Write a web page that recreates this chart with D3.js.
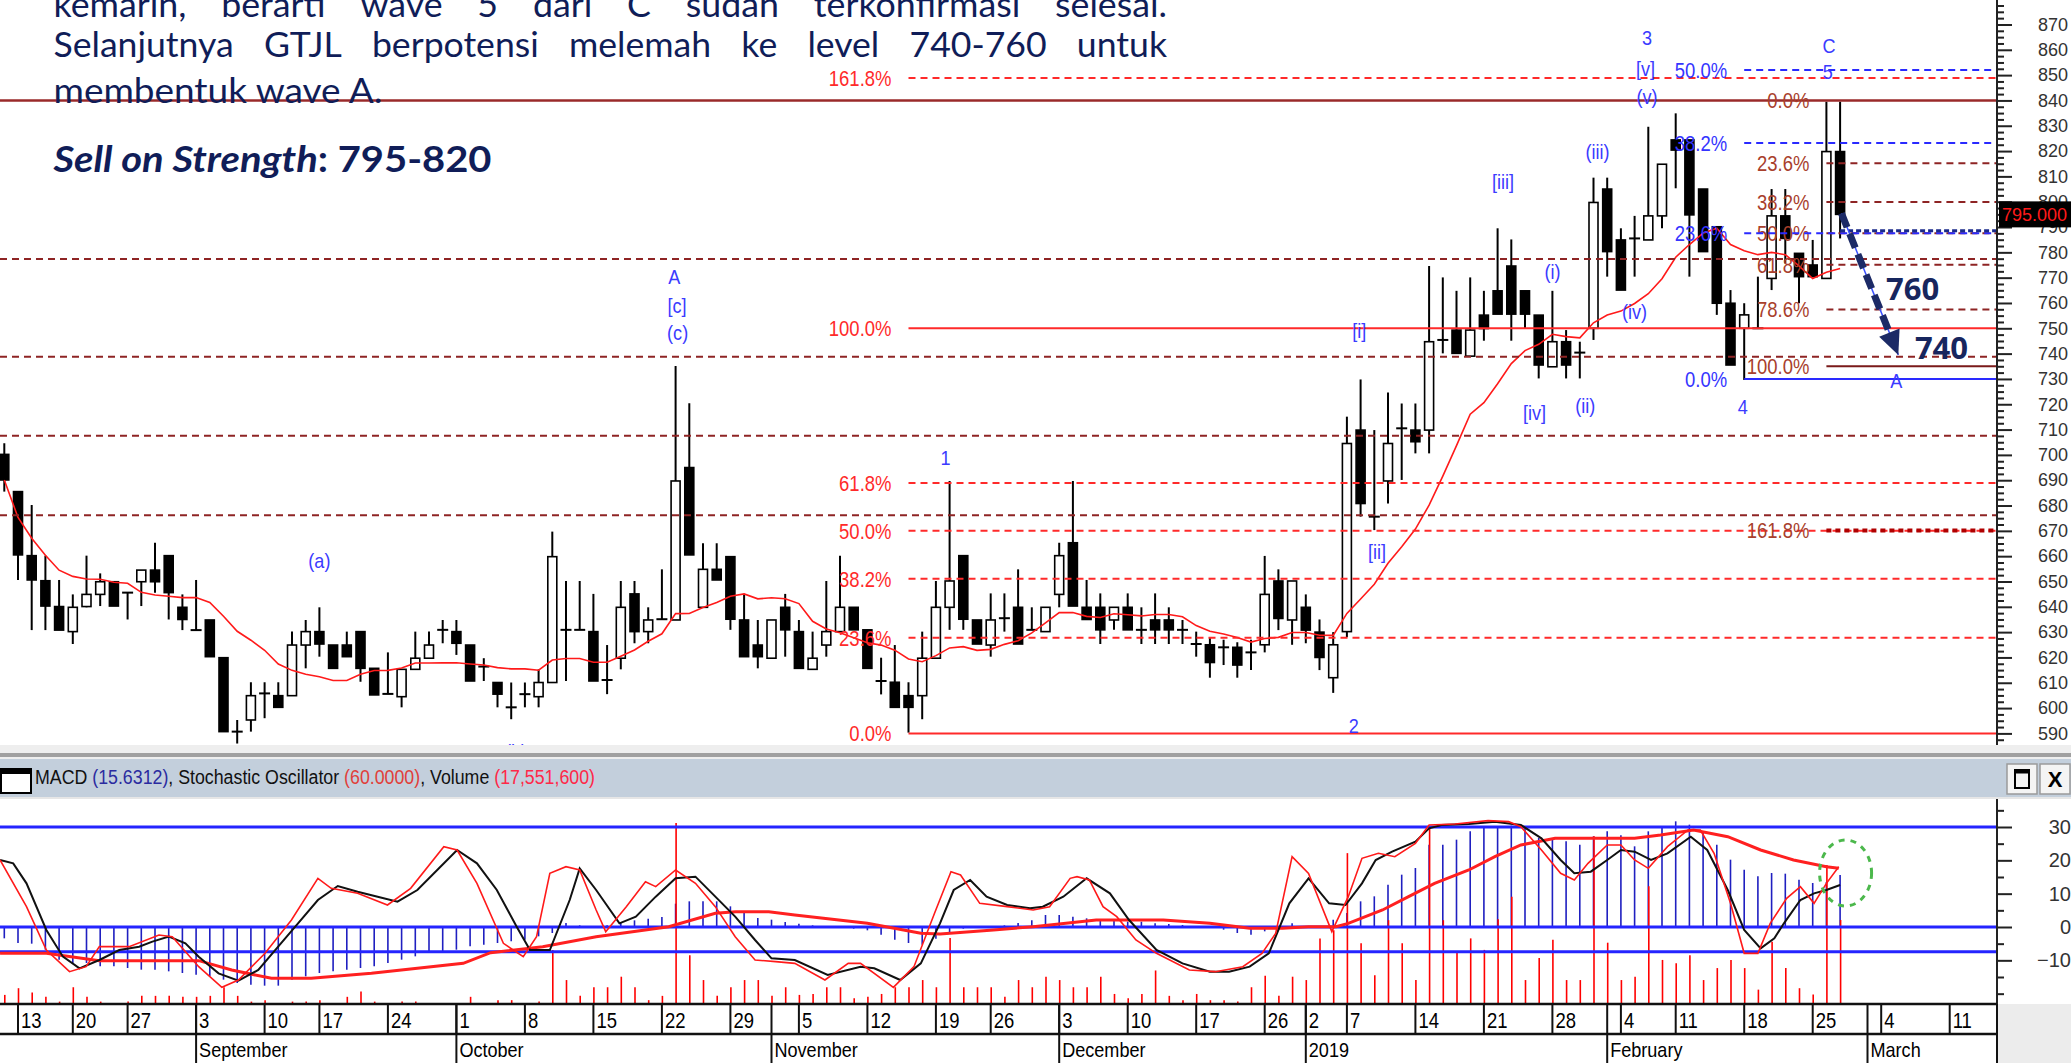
<!DOCTYPE html>
<html><head><meta charset="utf-8">
<script src="https://cdn.jsdelivr.net/npm/d3@7/dist/d3.min.js"></script>
<style>html,body{margin:0;padding:0;background:#fff;overflow:hidden}svg{display:block}</style>
</head><body>
<svg id="chart" width="2071" height="1063"></svg>
<script>
// ===================== DATA =====================
// trading-day index of first candle (0 = 13 Aug 2018)
const firstIndex = -1;
const open = [
700.2,685.5,660.2,650.3,640.1,630.2,640.1,644.9,649.9,645.6,
649.9,654.5,660.2,639.8,631.2,634.8,619.9,590.7,595.3,605.8,
604.9,604.9,624.9,630.2,624.9,624.9,630.2,615.7,605.6,604.5,
615.3,619.7,630.9,630.2,624.9,616.4,610.1,600.3,605.5,604.5,
610.1,630.9,630.9,630.2,611.1,619.7,645.1,630.2,635.1,634.8,
695.0,639.8,654.8,659.8,634.8,624.9,619.7,639.8,630.2,615.3,
624.9,630.2,639.8,630.9,610.7,610.2,604.9,604.9,619.7,639.8,
660.2,634.8,624.9,635.5,639.8,630.9,630.2,644.9,665.3,639.8,
639.8,634.8,639.8,630.9,634.8,634.8,630.9,625.3,625,624,
624,622,625,650.2,634.8,639.8,630,612,630.2,709.8,
675.6,689.7,710.5,709.8,709.8,745.4,749.3,739.0,755.2,764.8,
774.6,764.8,755.2,734.8,744.7,740.4,750,805.0,784.9,785.5,
784.9,794.4,824.4,824.4,805.0,790.1,759.9,750.0,750,769.7,
794.4,779.6,775,769.7,819.8];
const high = [
704.6,685.5,680.2,660.2,650.6,644.9,660.2,653.2,649.9,645.6,
654.5,665.3,660.2,644.9,650.6,634.8,620.0,595.3,610.2,610.2,
610.2,630.2,634.8,639.8,624.9,630.2,630.2,615.7,622.0,615.3,
630.2,630.2,634.8,634.8,624.9,619.7,610.1,610.1,610.1,615.3,
669.7,650.2,650.2,645.1,624.9,650.2,650.2,639.8,654.8,735.1,
720.4,665.1,665.1,659.8,645.1,634.8,634.8,645.1,634.8,630.2,
650.2,660.2,639.8,630.9,619.9,624.9,610.2,630.2,650.2,689.7,
660.2,634.8,645.3,645.3,654.8,639.8,639.8,665.3,689.7,650.6,
645.3,639.8,645.3,639.8,645.3,639.8,634.8,630.2,628,627,
626,627,660.1,654.8,650.2,644.9,635,630,715.1,729.8,
709.8,724.6,720.3,720.3,774.6,770.1,764.8,770.1,764.8,789.5,
785.1,764.8,755.2,764.8,749.3,744.7,809.5,809.5,789.5,794.4,
829.6,814.8,834.9,824.4,805.0,790.1,765.1,759.9,770.4,805,
805,779.6,784.9,839.5,839.5];
const low = [
685.5,650.6,630.8,630.8,630.8,625.3,639.8,640.3,640.3,635.0,
640.3,645.6,635.0,630.8,630.8,620.3,590.7,586.0,590.7,596.0,
600.3,604.9,615.7,620.3,615.7,620.3,610.4,605.2,605.6,600.3,
615.3,619.7,625.6,621.0,610.7,610.7,600.3,595.6,600.3,600.3,
610.1,610.7,630.9,610.7,605.5,615.3,625.6,625.6,635.1,634.8,
660.5,639.8,650.6,630.9,620.3,615.7,619.7,620.3,615.7,615.3,
620.3,630.2,630.9,615.7,605.4,600.3,590.3,595.6,619.7,630.9,
630.9,625.3,620.3,630.2,625.3,630.9,630.2,639.8,640.3,635.0,
625.3,630.9,630.9,625.3,625.3,625.3,625.3,620.3,612,617,
612,615,622,630.8,625,625.6,615,606,628,675.6,
670.3,680.8,690.1,700.6,700.6,740.1,740.1,739.0,745.1,755.6,
745.1,750,730.2,734.8,730.2,730.2,745.4,770.4,765.1,770.4,
784.9,789.5,805.3,770.4,780.3,755.3,735.5,729.6,750,765.1,
775.7,759.9,770.4,769.7,785.5];
const close = [
690.1,660.5,650.6,640.3,630.8,639.8,644.9,649.9,640.3,645.6,
654.5,649.9,645.6,635.0,630.8,620.3,590.7,590.7,604.9,605.8,
600.3,624.9,630.2,625.3,615.7,620.3,615.7,605.2,605.6,615.3,
619.7,624.9,630.9,625.6,610.7,616.4,605.5,600.3,605.5,610.1,
659.8,630.9,630.9,610.7,611.1,639.8,630.2,634.8,635.1,689.7,
660.5,654.8,650.6,635.1,620.3,620.3,634.8,630.9,615.7,619.7,
630.2,639.8,630.9,615.7,610.7,600.3,600.3,619.7,639.8,650.2,
635.1,625.3,634.8,635.5,625.3,630.9,639.8,660.2,640.3,635.0,
630.9,639.8,630.9,630.9,630.9,630.9,630.9,625.3,618,624,
617,622,644.9,635.4,650.2,630.8,620,625,704.5,680.8,
675.6,704.5,710.5,705.2,744.7,745.4,740.1,749.3,749.9,755.6,
755.6,755.6,735.5,744.7,735.5,740.4,799.7,780.3,765.1,785.5,
794.4,814.8,820.4,794.8,780.3,759.9,735.5,755.3,750,794.4,
785.5,770.4,770.4,819.8,795.0];
// volume, millions of shares
const volume = [
1.9,3.3,2.4,1.5,0.5,3.5,1.5,0.5,0,0.5,
1.7,1.7,1.7,1.5,1.5,1.7,3.5,1.7,0.5,0.8,
0,0.5,0.5,0.8,0,1.5,2.6,0.5,0,0.5,
0.5,0,0,0,1.5,0,0.8,0.8,0,0.5,
11.3,5,1.7,3.5,3.5,5.7,3.5,0.8,1.7,37.8,
10.2,5,1.7,3.5,5,5,1.7,3.5,1.9,2.1,
3.5,3.5,1.2,1.5,2.1,3.5,3.5,5,3.5,13.8,
3.5,3.5,3.5,1.5,5,3.5,5.7,5,3.5,3.5,
5.7,2.1,1.2,2.1,7,1.7,0.8,2.1,0.8,0.8,
0.5,3.5,5.9,1.7,5.7,5,13.7,15.4,31.5,12.7,
6,17.5,12.7,5,37,17.5,11,13.7,11.3,17.7,
22.4,5,9.6,13.4,5,5,35,12.8,5,5.7,
24.6,9.2,8.5,10.2,5,7.5,9.2,7.5,3,13,
7.5,3.3,2,29,17.551600];
const macd = [
-3.4,-4.8,-5.0,-6.8,-9.8,-10.8,-10.8,-11.8,-11.8,-12.3,
-12.8,-12.8,-13.3,-13.8,-14.3,-14.8,-15.8,-16.8,-17.3,-17.6,
-17.6,-15.8,-14.8,-13.8,-13.3,-12.8,-12.3,-11.8,-10.8,-9.8,
-8.8,-7.8,-7.3,-6.8,-5.8,-5.3,-4.8,-4.3,-3.8,-2.8,
-1.8,1.2,0.5,0.2,0.5,1.5,2.0,2.5,3.0,7.0,
7.7,7.7,7.7,6.2,4.7,2.7,2.2,1.5,1.0,0.5,
0.2,0,-0.5,-1.0,-2.3,-3.8,-4.8,-5.3,-3.5,-1.5,
-0.5,0,0.3,0.5,1.2,2.0,3.6,3.6,3.1,2.6,
2.1,1.9,1.6,1.6,1.1,0.9,0.6,0.2,0,-0.8,
-1.8,-2.3,-1.3,-0.3,1.1,0,0.2,2.2,4.2,7.7,
9.2,12.7,15.7,17.7,24.7,24.7,26.2,28.7,29.7,30.2,
30.4,30.0,26.7,26.2,25.7,24.7,27.2,28.7,27.5,24.2,
28.7,29.7,31.7,30.7,28.7,24.7,20.2,17.2,15.2,16.2,
16.0,14.2,13.2,13.5,15.6312];
// [trading-day index, value]
const macdSignal = [[-1.31,-7.9],[2.07,-7.9],[5.94,-10.1],[13.2,-10.1],[15.6,-12.9],[18.5,-15.4],[21.4,-15.4],[25.8,-13.9],[32.5,-10.9],[34.5,-7.7],[38.3,-5.9],[42.2,-2.9],[47.5,0.1],[50.9,4.1],[52.4,4.6],[54.8,4.6],[56.7,3.6],[62.0,1.1],[65.9,-1.9],[67.3,-2.1],[71.2,-0.9],[74.1,0.1],[78.7,2.1],[83.6,2.1],[87.0,1.1],[89.9,-0.4],[92.3,-0.4],[94.2,0.1],[96.2,0.1],[97.1,1.1],[99.6,5.1],[101.5,9.1],[103.4,13.1],[105.9,17.1],[107.8,21.1],[109.7,24.6],[112.2,26.6],[118.0,26.6],[119.9,27.6],[122.3,29.1],[124.8,27.1],[127.2,23.1],[129.6,20.1],[132.0,18.1],[132.9,17.6]];
const stochSlow = [[-1.31,20.1],[-0.35,19.1],[0.62,13.1],[2.07,-0.9],[3.28,-8.9],[4.49,-12.4],[5.94,-9.9],[7.39,-6.9],[8.84,-5.9],[9.81,-4.4],[11.01,-2.9],[12.22,-4.9],[13.19,-8.9],[14.64,-13.9],[16.09,-16.1],[17.54,-12.9],[18.99,-5.9],[20.44,1.1],[21.89,8.1],[23.34,12.3],[24.79,10.6],[26.25,9.1],[27.7,7.6],[29.15,11.1],[30.6,17.1],[32.05,23.1],[33.5,19.1],[34.95,11.1],[36.4,0.1],[37.37,-6.9],[38.82,-6.9],[40.27,8.1],[41.0,17.6],[42.2,11.1],[43.9,1.1],[45.1,3.1],[46.55,9.1],[48.0,14.6],[49.45,15.1],[50.9,9.1],[52.35,3.1],[53.8,-3.9],[55.0,-9.4],[56.7,-9.9],[59.1,-14.4],[61.5,-11.9],[62.5,-12.4],[64.4,-15.9],[65.9,-10.9],[67.3,1.1],[68.3,11.1],[69.5,14.1],[70.7,9.1],[72.2,6.6],[73.87,5.6],[74.8,6.1],[76.3,9.1],[78.0,14.6],[79.7,10.1],[81.1,2.1],[83.1,-6.9],[85.0,-10.9],[87.0,-13.4],[88.4,-13.4],[89.9,-11.9],[91.3,-7.9],[92.8,7.1],[94.2,14.6],[95.7,7.1],[96.9,6.6],[98.1,13.1],[99.1,20.1],[100.3,22.6],[102.0,25.6],[103.0,29.6],[103.9,30.6],[105.9,30.9],[107.8,31.6],[109.7,30.6],[111.2,26.6],[112.6,20.1],[113.6,16.1],[114.8,16.6],[116.0,20.1],[117.0,23.1],[118.0,22.6],[119.2,20.1],[120.4,22.1],[122.1,27.1],[123.3,23.1],[124.8,11.1],[126.0,-0.9],[127.2,-6.4],[128.2,-3.4],[128.9,1.1],[130.1,8.1],[131.1,10.1],[132.0,11.1],[133.0,12.6]];
const stochFast = [[-1.31,20.1],[0.62,6.1],[2.07,-6.9],[3.76,-13.4],[4.97,-11.9],[5.94,-5.9],[8.11,-5.9],[10.29,-2.4],[11.26,-2.9],[13.19,-11.9],[14.88,-18.1],[16.09,-15.9],[18.03,-7.9],[19.96,2.1],[21.89,14.6],[22.86,11.6],[24.79,10.1],[26.97,6.6],[28.66,11.6],[31.08,24.1],[32.05,23.1],[33.5,13.1],[35.43,-4.9],[36.88,-8.9],[37.85,-2.9],[38.82,16.1],[40.0,18.1],[41.0,17.1],[42.2,5.1],[42.9,-1.4],[44.4,6.1],[45.8,13.6],[46.55,12.1],[48.0,17.1],[49.45,13.1],[50.9,6.1],[52.35,-2.9],[53.8,-9.9],[55.3,-10.4],[56.7,-10.9],[58.9,-15.9],[60.6,-10.9],[61.5,-10.9],[63.9,-18.1],[65.4,-11.9],[66.9,4.1],[68.1,16.6],[68.8,15.6],[70.2,7.1],[72.2,6.1],[74.1,5.1],[75.3,6.1],[76.8,14.6],[77.3,15.1],[78.2,14.1],[79.2,6.1],[80.2,3.1],[81.6,-3.9],[83.1,-7.9],[85.5,-12.9],[87.4,-13.4],[89.4,-11.9],[90.8,-7.9],[91.8,-1.9],[93.0,21.1],[94.2,16.1],[95.9,-1.4],[97.1,9.1],[98.1,20.6],[99.3,22.1],[100.5,21.1],[102.0,25.1],[103.0,30.6],[104.9,30.9],[107.3,31.9],[108.8,31.6],[109.7,30.1],[111.2,23.1],[112.6,16.1],[113.6,14.1],[114.6,19.1],[116.0,24.6],[117.0,24.6],[118.0,20.1],[119.0,17.6],[120.4,24.1],[121.9,29.1],[122.8,29.1],[123.8,22.1],[125.0,7.1],[126.0,-7.9],[127.0,-7.9],[127.9,1.1],[129.1,8.6],[130.1,12.1],[131.1,7.1],[132.0,13.1],[132.9,18.1]];
const indicatorLevels = [30, 0, -7.4];

// horizontal price levels
const resistanceSolid = 840;
const dashedLevels = [777.4, 738.8, 707.6, 676.2];
const fibPercents = [0, 23.6, 38.2, 50, 61.8, 78.6, 100, 161.8];
const redFib   = {from: 590, to: 750, start: 65,  levels: [0, 23.6, 38.2, 50, 61.8, 100, 161.8]};
const brownFib = {from: 840, to: 735, start: 132, levels: [0, 23.6, 38.2, 50, 61.8, 78.6, 100, 161.8]};
const blueFib  = {from: 730, to: 974, start: 126, levels: [0, 23.6, 38.2, 50]};
const navyLevel = 788.5;

// Elliott wave labels
const waveText  = ["(a)","(b)","A","[c]","(c)","1","B","2","[i]","[ii]","[iii]","[iv]","(i)","(ii)","(iii)","(iv)","3","[v]","(v)","4","C","5","A"];
const waveIdx   = [22.0,36.35,47.9,48.1,48.15,67.7,65.0,97.5,97.9,99.2,108.4,110.7,112.0,114.4,115.3,118.0,118.9,118.8,118.9,125.9,132.2,132.1,137.1];
const wavePrice = [658.5,583.0,770.3,759.2,748.5,699.1,581.5,593.3,749.3,661.8,807.9,716.7,772.4,719.7,819.7,756.6,864.9,852.7,841.5,719.3,861.8,851.3,729.6];

const arrowFrom = [133.1, 795.4], arrowTo = [137.25, 739.5];
const targetText = ["760", "740"], targetIdx = [138.3, 140.4], targetPrice = [765.5, 742.2];
const lastPrice = 795.0;
const circleAt = [133.4, 16.2];

const priceTicks = d3.range(590, 871, 10);
const macdTicks = [-10, 0, 10, 20, 30];
const dayTickIdx = [0,4,8,13,18,22,27,32,37,42,47,52,57,62,67,71,76,81,86,91,94,97,102,107,112,117,121,126,131,136,141];
const dayTickLabel = ["13","20","27","3","10","17","24","1","8","15","22","29","5","12","19","26","3","10","17","26","2","7","14","21","28","4","11","18","25","4","11"];
const monthIdx = [13, 32, 55, 76, 94, 116, 135];
const monthLabel = ["September","October","November","December","2019","February","March"];

const headerParts = [["MACD ","#111"],["(15.6312)","#2b2ba0"],[", Stochastic Oscillator ","#111"],["(60.0000)","#e0403a"],[", Volume ","#111"],["(17,551,600)","#ff2848"]];
const textLine1 = "kemarin, berarti wave 5 dari C sudah terkonfirmasi selesai.";
const textLine2 = "Selanjutnya GTJL berpotensi melemah ke level 740-760 untuk";
const textLine3 = "membentuk wave A.";
const sellLabel = "Sell on Strength", sellRange = ": 795-820";

// ===================== LAYOUT =====================
const W = 2071, H = 1063;
const plotR = 1997, priceB = 745, macdT = 799, macdB = 1004, axisMid = 1034;
const CF = '"Liberation Sans", Arial, sans-serif';
const navy = '#101d58';

const svg = d3.select('#chart');
svg.append('rect').attr('width', W).attr('height', H).attr('fill', '#fff');
const defs = svg.append('defs');
defs.append('clipPath').attr('id','clipP').append('rect').attr('x',0).attr('y',0).attr('width',plotR).attr('height',priceB);
defs.append('clipPath').attr('id','clipM').append('rect').attr('x',0).attr('y',macdT).attr('width',plotR).attr('height',macdB-macdT);

const xs = d3.scaleLinear().domain([0, 141]).range([18, 1949.7]);
const yp = d3.scaleLinear().domain([590, 750]).range([733.4, 328.3]);
const ym = d3.scaleLinear().domain([0, 30]).range([927, 827]);
const yv = d3.scaleLinear().domain([0, 38]).range([macdB, 822]);

function squeeze(sel, k) {
  sel.each(function(){
    const L = this.getComputedTextLength();
    d3.select(this).attr('textLength', L * k).attr('lengthAdjust', 'spacingAndGlyphs');
  });
  return sel;
}

const candles = open.map((o, k) => ({i: firstIndex + k, o, h: high[k], l: low[k], c: close[k]}));

// ===================== PRICE PANEL =====================
const P = svg.append('g').attr('clip-path', 'url(#clipP)');

// candles
const cg = P.append('g');
cg.selectAll('line.wick').data(candles).join('line')
  .attr('x1', d => xs(d.i)).attr('x2', d => xs(d.i))
  .attr('y1', d => yp(d.h)).attr('y2', d => yp(d.l))
  .attr('stroke', '#000').attr('stroke-width', 2);
cg.selectAll('g.body').data(candles).join('g').each(function(d){
  const g = d3.select(this);
  const top = yp(Math.max(d.o, d.c)), bot = yp(Math.min(d.o, d.c));
  if (bot - top < 2) {
    g.append('line').attr('x1', xs(d.i) - 5.5).attr('x2', xs(d.i) + 5.5)
      .attr('y1', yp(d.c)).attr('y2', yp(d.c)).attr('stroke', '#000').attr('stroke-width', 2);
  } else {
    g.append('rect').attr('x', xs(d.i) - 4.5).attr('width', 9)
      .attr('y', top).attr('height', bot - top)
      .attr('fill', d.c >= d.o ? '#fff' : '#000')
      .attr('stroke', '#000').attr('stroke-width', 1.6);
  }
});

// moving average (10-day simple, derived from closes)
const ma = close.map((c, k) => d3.mean(close.slice(Math.max(0, k - 9), k + 1)));
P.append('path').datum(ma.map((v, k) => [firstIndex + k, v]))
  .attr('d', d3.line().x(d => xs(d[0])).y(d => yp(d[1])))
  .attr('fill', 'none').attr('stroke', '#ff1a1a').attr('stroke-width', 1.6);

// full-width levels
P.append('line').attr('x1', 0).attr('x2', plotR).attr('y1', yp(resistanceSolid)).attr('y2', yp(resistanceSolid))
  .attr('stroke', '#9a2a2a').attr('stroke-width', 2.5);
P.selectAll('line.lvl').data(dashedLevels).join('line')
  .attr('x1', 0).attr('x2', plotR).attr('y1', d => yp(d)).attr('y2', d => yp(d))
  .attr('stroke', '#8e2424').attr('stroke-width', 2).attr('stroke-dasharray', '7,5');

// fibonacci sets
function fibPrice(f, p) { return f.from + (f.to - f.from) * p / 100; }
function drawFib(f, color, labelColor, styleFn) {
  const g = P.append('g');
  f.levels.forEach(p => {
    const st = styleFn(p);
    if (st) {
      g.append('line').attr('x1', xs(f.start)).attr('x2', plotR)
        .attr('y1', yp(fibPrice(f, p))).attr('y2', yp(fibPrice(f, p)))
        .attr('stroke', st.color || color).attr('stroke-width', st.w || 2)
        .attr('stroke-dasharray', st.dash || null);
    }
    const t = g.append('text').attr('x', xs(f.start) - 17).attr('y', yp(fibPrice(f, p)))
      .attr('dy', '0.36em').attr('text-anchor', 'end')
      .style('font', '22px ' + CF).attr('fill', labelColor).text(p.toFixed(1) + '%');
    squeeze(t, 0.84);
  });
}
drawFib(redFib, '#ff2a2a', '#ff2a2a', p => (p === 0 || p === 100) ? {} : {dash: '7,5'});
drawFib(brownFib, '#8e2424', '#a8402c', p => p === 0 ? null : p === 100 ? {color: '#7a1a1a'} : p === 161.8 ? {dash: '5,4', w: 4, color: '#b00000'} : {dash: '7,5'});
drawFib(blueFib, '#2a2aff', '#3535ff', p => p === 0 ? {} : {dash: '7,5'});
P.append('line').attr('x1', xs(133)).attr('x2', plotR).attr('y1', yp(navyLevel)).attr('y2', yp(navyLevel))
  .attr('stroke', '#1a2a8a').attr('stroke-width', 3).attr('stroke-dasharray', '5,3');

// wave labels
P.selectAll('text.wave').data(waveText).join('text')
  .attr('x', (d, k) => xs(waveIdx[k])).attr('y', (d, k) => yp(wavePrice[k]))
  .attr('dy', '0.36em').attr('text-anchor', 'middle')
  .style('font', '21px ' + CF).attr('fill', '#3b3bff').text(d => d)
  .call(s => squeeze(s, 0.86));

// projected path arrow
const ax1 = xs(arrowFrom[0]), ay1 = yp(arrowFrom[1]), ax2 = xs(arrowTo[0]), ay2 = yp(arrowTo[1]);
const ang = Math.atan2(ay2 - ay1, ax2 - ax1);
const hl = 24, hw = 11;
const bx = ax2 - hl * Math.cos(ang), by = ay2 - hl * Math.sin(ang);
P.append('line').attr('x1', ax1).attr('y1', ay1).attr('x2', ax2).attr('y2', ay2)
  .attr('stroke', '#3a50ff').attr('stroke-width', 1.5);
P.append('line').attr('x1', ax1).attr('y1', ay1).attr('x2', bx).attr('y2', by)
  .attr('stroke', '#1c2a66').attr('stroke-width', 7).attr('stroke-dasharray', '15,7');
P.append('path').attr('d', `M${ax2},${ay2}L${bx + hw * Math.sin(ang)},${by - hw * Math.cos(ang)}L${bx - hw * Math.sin(ang)},${by + hw * Math.cos(ang)}Z`)
  .attr('fill', '#1c2a66');
P.selectAll('text.target').data(targetText).join('text')
  .attr('x', (d, k) => xs(targetIdx[k])).attr('y', (d, k) => yp(targetPrice[k]))
  .attr('dy', '0.36em').attr('text-anchor', 'middle')
  .style('font', 'bold 31px "Open Sans", sans-serif').attr('fill', '#17265e').text(d => d);

// price axis
svg.append('line').attr('x1', plotR).attr('x2', plotR).attr('y1', 0).attr('y2', priceB).attr('stroke', '#222').attr('stroke-width', 2);
const pa = svg.append('g').attr('transform', `translate(${plotR},0)`)
  .call(d3.axisRight(yp).tickValues(priceTicks).tickSize(15).tickFormat(d3.format('d')));
pa.select('.domain').remove();
pa.selectAll('line').attr('stroke', '#222').attr('stroke-width', 2);
pa.selectAll('text').attr('x', 71).attr('text-anchor', 'end').style('font', '18px ' + CF).attr('fill', '#333');
const pm = svg.append('g').attr('transform', `translate(${plotR},0)`)
  .call(d3.axisRight(yp).tickValues(d3.range(587.5, 880, 2.5).filter(v => v % 10 !== 0)).tickSize(7).tickFormat(''));
pm.select('.domain').remove();
pm.selectAll('line').attr('stroke', '#222').attr('stroke-width', 2);
// last price tag
svg.append('rect').attr('x', plotR + 2).attr('y', yp(lastPrice) - 13).attr('width', W - plotR - 2).attr('height', 26).attr('fill', '#000');
svg.append('text').attr('x', plotR + 5).attr('y', yp(lastPrice)).attr('dy', '0.36em')
  .style('font', '18px ' + CF).attr('fill', '#ff1a1a').text(lastPrice.toFixed(3));

// ===================== SEPARATOR + HEADER =====================
svg.append('rect').attr('x', 0).attr('y', priceB).attr('width', W).attr('height', 14).attr('fill', '#eeeeee');
svg.append('line').attr('x1', 0).attr('x2', W).attr('y1', 755).attr('y2', 755).attr('stroke', '#a0a0a0').attr('stroke-width', 4);
svg.append('rect').attr('x', 0).attr('y', 759).attr('width', W).attr('height', 39).attr('fill', '#c3cfdc');
svg.append('line').attr('x1', 0).attr('x2', W).attr('y1', 798).attr('y2', 798).attr('stroke', '#e6e6e6').attr('stroke-width', 2);
// window icon
svg.append('rect').attr('x', 1).attr('y', 769).attr('width', 30).attr('height', 24).attr('fill', '#fff').attr('stroke', '#000').attr('stroke-width', 2);
svg.append('rect').attr('x', 1).attr('y', 769).attr('width', 30).attr('height', 5).attr('fill', '#000');
const ht = svg.append('text').attr('x', 35).attr('y', 784).style('font', '20px ' + CF);
headerParts.forEach(p => ht.append('tspan').attr('fill', p[1]).text(p[0]));
ht.attr('textLength', 560).attr('lengthAdjust', 'spacingAndGlyphs');
// buttons
[[2007, 'box'], [2040, 'x']].forEach(b => {
  svg.append('rect').attr('x', b[0]).attr('y', 764).attr('width', 30).attr('height', 30).attr('fill', '#f4f4f4').attr('stroke', '#9a9a9a').attr('stroke-width', 1.5);
  if (b[1] === 'box') {
    svg.append('rect').attr('x', b[0] + 8).attr('y', 770).attr('width', 14).attr('height', 18).attr('fill', 'none').attr('stroke', '#000').attr('stroke-width', 2);
    svg.append('line').attr('x1', b[0] + 8).attr('x2', b[0] + 22).attr('y1', 772).attr('y2', 772).attr('stroke', '#000').attr('stroke-width', 3);
  } else {
    svg.append('text').attr('x', b[0] + 15).attr('y', 787).attr('text-anchor', 'middle').style('font', 'bold 22px ' + CF).attr('fill', '#000').text('X');
  }
});

// ===================== INDICATOR PANEL =====================
const M = svg.append('g').attr('clip-path', 'url(#clipM)');
const bars = macd.map((v, k) => ({i: firstIndex + k, v}));
M.selectAll('line.hist').data(bars).join('line')
  .attr('x1', d => xs(d.i)).attr('x2', d => xs(d.i)).attr('y1', ym(0)).attr('y2', d => ym(d.v))
  .attr('stroke', '#1f1fc0').attr('stroke-width', 1.6);
const vols = volume.map((v, k) => ({i: firstIndex + k, v})).filter(d => d.v > 0);
M.selectAll('line.vol').data(vols).join('line')
  .attr('x1', d => xs(d.i) + 0.5).attr('x2', d => xs(d.i) + 0.5).attr('y1', yv(0)).attr('y2', d => yv(d.v))
  .attr('stroke', '#ff0000').attr('stroke-width', 1.6);
M.selectAll('line.ref').data(indicatorLevels).join('line')
  .attr('x1', 0).attr('x2', plotR).attr('y1', d => ym(d)).attr('y2', d => ym(d))
  .attr('stroke', '#2424ff').attr('stroke-width', 3);
const ln = d3.line().x(d => xs(d[0])).y(d => ym(d[1]));
M.append('path').datum(macdSignal).attr('d', ln).attr('fill', 'none').attr('stroke', '#ff2020').attr('stroke-width', 3);
M.append('path').datum(stochSlow).attr('d', ln).attr('fill', 'none').attr('stroke', '#111').attr('stroke-width', 2);
M.append('path').datum(stochFast).attr('d', ln).attr('fill', 'none').attr('stroke', '#ff1a1a').attr('stroke-width', 1.6);
M.append('ellipse').attr('cx', xs(circleAt[0])).attr('cy', ym(circleAt[1])).attr('rx', 26).attr('ry', 33)
  .attr('fill', 'none').attr('stroke', '#4cb84c').attr('stroke-width', 3).attr('stroke-dasharray', '6,6');

svg.append('line').attr('x1', plotR).attr('x2', plotR).attr('y1', macdT).attr('y2', macdB).attr('stroke', '#222').attr('stroke-width', 2);
const ma2 = svg.append('g').attr('transform', `translate(${plotR},0)`)
  .call(d3.axisRight(ym).tickValues(macdTicks).tickSize(15).tickFormat(d3.format('d')));
ma2.select('.domain').remove();
ma2.selectAll('line').attr('stroke', '#222').attr('stroke-width', 2);
ma2.selectAll('text').attr('x', 74).attr('text-anchor', 'end').style('font', '20px ' + CF).attr('fill', '#333');
const mm = svg.append('g').attr('transform', `translate(${plotR},0)`)
  .call(d3.axisRight(ym).tickValues([-20, -15, -5, 5, 15, 25, 35]).tickSize(7).tickFormat(''));
mm.select('.domain').remove();
mm.selectAll('line').attr('stroke', '#222').attr('stroke-width', 2);

// ===================== DATE AXIS =====================
svg.append('rect').attr('x', plotR).attr('y', macdB).attr('width', W - plotR).attr('height', H - macdB).attr('fill', '#ececec');
svg.append('line').attr('x1', 0).attr('x2', plotR).attr('y1', macdB).attr('y2', macdB).attr('stroke', '#111').attr('stroke-width', 2.5);
svg.append('line').attr('x1', 0).attr('x2', plotR).attr('y1', axisMid).attr('y2', axisMid).attr('stroke', '#111').attr('stroke-width', 2.5);
svg.append('line').attr('x1', plotR).attr('x2', plotR).attr('y1', macdB).attr('y2', H).attr('stroke', '#111').attr('stroke-width', 2);
svg.selectAll('line.dtick').data(dayTickIdx).join('line')
  .attr('x1', d => xs(d)).attr('x2', d => xs(d)).attr('y1', macdB).attr('y2', axisMid)
  .attr('stroke', '#111').attr('stroke-width', 2);
svg.selectAll('text.dlab').data(dayTickLabel).join('text')
  .attr('x', (d, k) => xs(dayTickIdx[k]) + 3).attr('y', 1028)
  .style('font', '22px ' + CF).attr('fill', '#000').text(d => d)
  .call(s => squeeze(s, 0.84));
svg.selectAll('line.mtick').data(monthIdx).join('line')
  .attr('x1', d => xs(d)).attr('x2', d => xs(d)).attr('y1', macdB).attr('y2', H)
  .attr('stroke', '#111').attr('stroke-width', 2);
svg.selectAll('text.mlab').data(monthLabel).join('text')
  .attr('x', (d, k) => xs(monthIdx[k]) + 3).attr('y', 1057)
  .style('font', '21px ' + CF).attr('fill', '#000').text(d => d)
  .call(s => squeeze(s, 0.86));

// ===================== COMMENTARY TEXT =====================
function justify(text, x0, x1, baseline, font, wordsWidth) {
  const words = text.split(' ');
  const nodes = words.map(w => svg.append('text').attr('y', baseline).style('font', font).attr('fill', navy).text(w));
  const nat = nodes.map(n => n.node().getComputedTextLength());
  const k = wordsWidth / d3.sum(nat);
  const gap = (x1 - x0 - wordsWidth) / (words.length - 1);
  let x = x0;
  nodes.forEach((n, i) => {
    const w = nat[i] * k;
    n.attr('x', x).attr('textLength', w).attr('lengthAdjust', 'spacingAndGlyphs');
    x += w + gap;
  });
}
const bodyFont = '35px Lato, "Open Sans", sans-serif';
justify(textLine1, 53.5, 1167, 17, bodyFont, 835);
justify(textLine2, 53.5, 1167, 57, bodyFont, 902);
svg.append('text').attr('x', 53.5).attr('y', 103).style('font', bodyFont).attr('fill', navy)
  .attr('textLength', 329).attr('lengthAdjust', 'spacingAndGlyphs').text(textLine3);
const st = svg.append('text').attr('x', 53.5).attr('y', 172).style('font', 'bold 37px Lato, "Open Sans", sans-serif').attr('fill', navy);
st.append('tspan').style('font-style', 'italic').text(sellLabel);
st.append('tspan').text(sellRange);
st.attr('textLength', 438).attr('lengthAdjust', 'spacingAndGlyphs');
</script>
</body></html>
